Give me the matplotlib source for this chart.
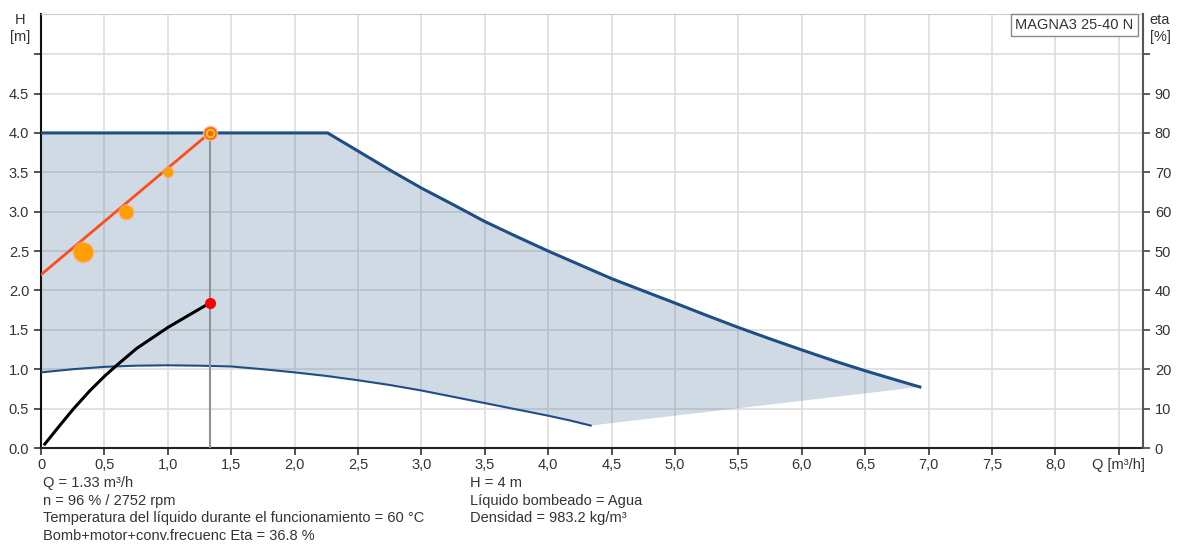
import matplotlib
matplotlib.use('Agg')
import matplotlib.pyplot as plt
import numpy as np

plt.rcParams['font.family'] = ['Liberation Sans', 'DejaVu Sans']

# pump range: upper (max speed) and lower (min speed) curves, H in m
q_max = [0.0, 2.26, 2.5, 2.75, 3.0, 3.25, 3.5, 3.75, 4.0, 4.25, 4.5, 4.75,
         5.0, 5.25, 5.5, 5.75, 6.0, 6.25, 6.5, 6.75, 6.93]
h_max = [4.0, 4.0, 3.77, 3.53, 3.30, 3.09, 2.875, 2.685, 2.50, 2.325, 2.15, 1.995,
         1.84, 1.683, 1.53, 1.385, 1.245, 1.108, 0.98, 0.86, 0.775]
q_min = [0.0, 0.25, 0.5, 0.75, 1.0, 1.25, 1.5, 1.75, 2.0, 2.25, 2.5, 2.75,
         3.0, 3.25, 3.5, 3.75, 4.0, 4.17, 4.335]
h_min = [0.96, 1.0, 1.03, 1.045, 1.05, 1.045, 1.035, 1.0, 0.96, 0.915, 0.86, 0.80,
         0.73, 0.65, 0.57, 0.49, 0.41, 0.35, 0.285]

# control line (proportional pressure) and duty point
q_ctrl = [0.0, 1.33]
h_ctrl = [2.2, 4.0]
q_marks = [0.334, 0.67, 1.0]
h_marks = [2.49, 3.0, 3.51]
mark_sizes = [7, 5, 3.5]
q_duty = 1.33
h_duty = 4.0

# efficiency curve (right axis, %)
q_eta = [0.03, 0.15, 0.255, 0.387, 0.5, 0.597, 0.755, 1.0, 1.175, 1.33]
eta = [1.0, 5.8, 9.9, 14.6, 18.2, 21.0, 25.3, 30.6, 33.9, 36.8]

x_ticks = np.arange(0, 8.51, 0.5)
x_labels = ['0', '0,5', '1,0', '1,5', '2,0', '2,5', '3,0', '3,5', '4,0', '4,5',
            '5,0', '5,5', '6,0', '6,5', '7,0', '7,5', '8,0', 'Q [m³/h]']
y_ticks = np.arange(0, 5.01, 0.5)
y_labels = ['0.0', '0.5', '1.0', '1.5', '2.0', '2.5', '3.0', '3.5', '4.0', '4.5', '']
eta_ticks = np.arange(0, 101, 10)
eta_labels = ['0', '10', '20', '30', '40', '50', '60', '70', '80', '90', '']

info_left = ['Q = 1.33 m³/h', 'n = 96 % / 2752 rpm',
             'Temperatura del líquido durante el funcionamiento = 60 °C',
             'Bomb+motor+conv.frecuenc Eta = 36.8 %']
info_right = ['H = 4 m', 'Líquido bombeado = Agua', 'Densidad = 983.2 kg/m³']

txt = '#333333'
blue = '#1f4e85'
fs = 10.5

fig = plt.figure(figsize=(11.77, 5.44), dpi=100)
ax = fig.add_axes([41 / 1177, 96 / 544, 1102 / 1177, 434 / 544])
ax.set_xlim(0, 8.69)
ax.set_ylim(0, 5.51)

# shaded operating range
poly_q = q_max + q_min[::-1]
poly_h = h_max + h_min[::-1]
ax.fill(poly_q, poly_h, color='#2a5a8c', alpha=0.22, lw=0, zorder=2)
ax.plot(q_max, h_max, color=blue, lw=2.2, zorder=3, solid_joinstyle='round')
ax.plot(q_min, h_min, color=blue, lw=1.5, zorder=3, solid_joinstyle='round')

ax.plot([q_duty, q_duty], [0, h_duty], color='#8c939b', lw=1.5, zorder=3)
ax.plot(q_ctrl, h_ctrl, color='#ff4d1a', lw=2, zorder=4)
for qm, hm, ms in zip(q_marks, h_marks, mark_sizes):
    ax.plot(qm, hm, 'o', ms=ms * 2 + 2, color='#ffb0a0', alpha=0.6, mec='none', zorder=5)
    ax.plot(qm, hm, 'o', ms=ms * 2, color='#ffa000', mec='none', zorder=6)
ax.plot(q_duty, h_duty, 'o', ms=11, color='#ffb0a0', mec='none', zorder=5)
ax.plot(q_duty, h_duty, 'o', ms=8, mfc='#ffd000', mec='#ff6020', mew=1.2, zorder=6)
ax.plot(q_duty, h_duty, 'o', ms=3, color='#ff6020', zorder=7)

ax.set_xticks(x_ticks)
ax.set_xticklabels(x_labels)
ax.set_yticks(y_ticks)
ax.set_yticklabels(y_labels)
ax.grid(True, color='#dddddd', lw=1.2, zorder=1)
ax.set_axisbelow(True)
ax.tick_params(axis='both', colors='#333333', labelcolor=txt, labelsize=fs, length=5, width=1.2)
ax.tick_params(axis='x', pad=2)
ax.spines['left'].set_color('#111111')
ax.spines['left'].set_linewidth(1.5)
ax.spines['bottom'].set_color('#222222')
ax.spines['bottom'].set_linewidth(1.5)
ax.spines['top'].set_color('#cccccc')
ax.spines['right'].set_visible(False)

ax2 = ax.twinx()
ax2.set_ylim(0, 110.2)
ax2.set_yticks(eta_ticks)
ax2.set_yticklabels(eta_labels)
ax2.tick_params(axis='y', colors='#444444', labelcolor=txt, labelsize=fs, length=5, width=1.2)
ax2.spines['right'].set_color('#555555')
ax2.spines['right'].set_linewidth(1.5)
for s in ['left', 'top', 'bottom']:
    ax2.spines[s].set_visible(False)
ax2.plot(q_eta, eta, color='black', lw=2.2, zorder=5, solid_joinstyle='round')
ax2.plot(q_eta[-1], eta[-1], 'o', ms=7, color='#ff0000', zorder=6)

fig.text(20 / 1177, 1 - 20 / 544, 'H', ha='center', va='center', fontsize=fs, color=txt)
fig.text(20 / 1177, 1 - 37 / 544, '[m]', ha='center', va='center', fontsize=fs, color=txt)
fig.text(1160 / 1177, 1 - 20 / 544, 'eta', ha='center', va='center', fontsize=fs, color=txt)
fig.text(1160 / 1177, 1 - 37 / 544, '[%]', ha='center', va='center', fontsize=fs, color=txt)

fig.text(1074 / 1177, 1 - 25 / 544, 'MAGNA3 25-40 N', ha='center', va='center', fontsize=fs,
         color=txt, bbox=dict(boxstyle='square,pad=0.3', fc='white', ec='#888888', lw=1))

for i, line in enumerate(info_left):
    fig.text(43 / 1177, 1 - (483 + 17.7 * i) / 544, line, ha='left', va='center',
             fontsize=fs, color=txt)
for i, line in enumerate(info_right):
    fig.text(470 / 1177, 1 - (483 + 17.7 * i) / 544, line, ha='left', va='center',
             fontsize=fs, color=txt)

fig.savefig('out.png', dpi=100)
